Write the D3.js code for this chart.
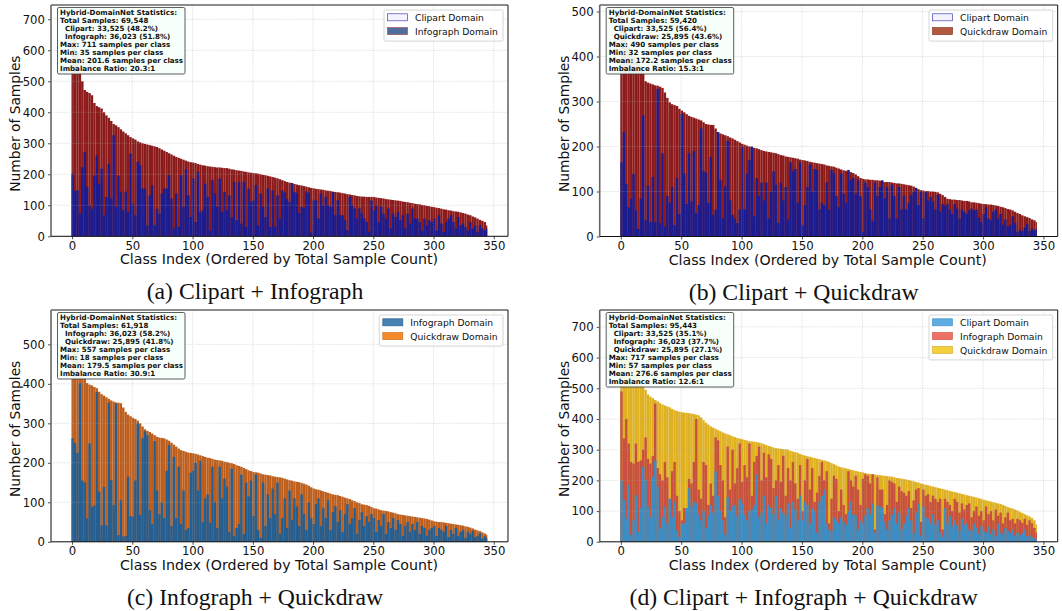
<!DOCTYPE html>
<html>
<head>
<meta charset="utf-8">
<script src="https://cdn.jsdelivr.net/npm/d3@7"></script>
<style>
  html, body { margin: 0; padding: 0; background: white; }
  svg { display: block; }
  text { font-family: "DejaVu Sans", sans-serif; fill: #111; }
  .caption { font-family: "Liberation Serif", serif; }
</style>
</head>
<body>
<svg id="chart" width="1062" height="611"></svg>
<script>
// values, one value per 2 classes (index 0, 2, 4, ... 344), each row = 50 classes
var aClipart = [
  202,148,148,73,223,272,159,100,89,196,261,170,218,68,127,234,122,326,95,196,142,84,144,78,267,
  105,68,240,229,154,154,35,132,165,35,89,73,138,154,154,197,122,25,138,30,197,95,215,132,62,
  186,46,207,78,84,170,127,19,181,138,95,186,78,143,84,132,62,175,52,175,41,175,30,154,111,
  116,165,35,138,95,62,154,30,148,30,132,57,148,142,120,110,172,143,140,75,95,92,145,140,12,
  116,116,57,138,100,127,100,95,143,68,116,68,68,52,20,127,100,90,57,90,73,57,46,15,116,
  84,100,46,95,73,57,90,25,73,62,78,52,68,25,73,41,90,57,57,46,19,57,35,52,46,
  57,19,68,41,14,46,57,68,46,25,62,35,41,30,19,46,25,35,14,35,25,19,25];
var aTotal = [
  711,650,590,530,500,472,466,462,455,430,420,416,412,400,390,382,372,362,358,352,345,338,332,326,320,
  316,312,306,303,300,298,296,294,292,290,288,284,280,276,272,268,264,260,256,253,250,247,244,241,239,
  238,236,233,231,229,228,226,225,224,223,222,222,221,220,220,218,216,215,213,212,211,209,208,206,205,
  204,203,202,200,198,197,195,193,191,189,187,184,181,178,175,173,171,169,167,165,164,162,160,158,156,
  155,153,152,151,150,148,147,146,144,143,142,141,139,138,136,135,133,132,130,129,128,128,127,127,127,
  127,125,124,123,122,120,119,118,117,116,115,114,112,111,110,108,107,105,104,103,101,100,98,97,95,
  94,92,91,89,87,86,84,83,81,80,79,77,75,73,70,68,64,61,57,53,50,46,35];

var bClipart = [
  165,232,117,65,84,139,58,17,84,269,36,113,32,132,32,328,30,185,22,90,75,110,25,130,50,
  272,140,72,185,78,190,52,70,240,145,142,75,177,48,60,232,125,40,112,212,80,48,40,30,60,
  200,60,140,170,200,45,130,90,120,80,120,40,100,145,115,30,120,80,110,38,165,145,150,75,165,
  25,70,110,160,100,150,148,60,75,70,120,60,148,140,90,65,140,95,75,148,125,130,95,125,90,
  10,120,110,60,35,120,90,110,125,85,110,40,115,90,40,110,60,90,60,75,92,100,108,70,100,
  40,98,80,88,78,60,92,55,72,68,72,60,50,72,62,40,60,55,50,58,62,58,60,42,32,
  50,65,40,36,55,60,40,50,26,38,22,26,45,30,10,15,12,20,28,12,18,14,16];
var bTotal = [
  490,470,445,420,410,400,392,385,378,365,345,342,340,338,336,335,333,330,320,308,298,294,292,290,284,
  280,276,272,268,266,264,262,260,258,254,250,249,248,248,240,232,229,227,225,223,220,218,215,212,209,
  206,204,202,200,198,197,196,194,192,190,189,188,187,186,185,183,181,180,178,177,176,175,174,173,171,
  170,169,168,166,165,164,163,162,161,160,158,157,156,155,153,151,149,147,146,145,143,141,138,134,130,
  128,127,127,126,126,125,125,124,122,121,121,121,120,119,118,118,117,116,115,114,113,111,108,105,103,
  102,101,101,100,100,99,98,95,92,88,84,83,82,82,81,81,80,79,79,78,76,76,75,74,73,
  72,72,71,71,70,69,68,66,65,63,61,60,58,55,52,50,47,45,43,41,38,36,32];

var cInfograph = [
  262,250,225,402,155,150,59,249,88,92,379,127,42,139,42,352,156,93,350,17,105,13,15,165,65,
  63,155,300,68,262,280,270,80,45,255,130,70,100,60,180,245,40,215,60,190,45,130,30,35,175,
  180,200,130,205,50,110,120,48,190,100,35,190,110,160,140,25,185,15,35,45,170,20,150,115,155,
  65,170,30,10,150,40,120,60,135,70,150,20,60,110,35,130,55,110,90,40,120,70,30,100,60,
  45,95,110,40,85,60,105,30,75,90,50,80,25,70,95,45,60,85,20,55,75,40,65,50,70,
  60,25,55,40,70,20,50,35,60,30,55,45,15,40,50,25,45,30,50,20,40,35,15,30,35,
  40,15,35,30,25,40,12,30,20,35,15,25,30,10,25,20,28,12,15,22,8,14,10];
var cTotal = [
  557,520,480,450,430,415,402,398,396,392,389,380,374,370,366,362,358,355,353,352,351,340,329,322,318,
  314,311,307,300,292,285,281,278,274,270,266,264,263,262,259,256,251,246,241,236,232,230,228,226,225,
  224,223,221,219,217,215,213,212,210,208,207,206,205,203,202,200,199,197,194,192,190,187,184,181,179,
  177,176,175,173,171,170,169,168,166,165,164,163,162,160,158,156,155,153,152,151,149,147,145,142,138,
  135,133,132,130,128,126,124,122,120,119,118,116,114,112,110,108,105,103,100,98,95,94,93,91,88,
  85,84,82,80,79,78,77,75,74,72,70,69,68,67,66,65,64,63,62,61,60,59,58,56,54,
  52,51,50,50,49,48,47,46,45,44,43,42,41,39,38,36,34,31,29,27,24,21,18];

var dClipart = [
  200,136,76,185,22,70,152,32,110,245,200,115,80,212,265,180,43,80,115,60,140,80,130,38,16,
  60,60,110,174,115,130,125,90,70,100,45,85,120,95,230,150,100,70,25,145,100,115,120,85,140,
  125,90,70,100,105,120,220,80,95,150,60,120,110,90,150,70,110,95,85,125,45,130,105,70,150,
  70,130,120,60,110,100,30,130,150,170,60,40,35,80,70,60,80,65,55,100,130,90,85,40,70,
  60,85,110,90,125,30,118,115,110,65,40,70,90,110,60,95,40,60,85,110,70,30,95,125,20,
  115,80,75,60,90,55,70,30,15,110,60,85,50,70,55,35,75,55,60,40,35,60,45,25,50,
  35,30,50,25,40,18,60,30,25,45,35,28,40,20,30,22,28,40,18,20,15,10,8];
var dClipartInfograph = [
  490,337,400,320,260,255,320,260,265,300,340,270,255,279,450,240,220,200,260,210,140,230,260,150,100,
  70,110,100,205,190,260,400,170,140,260,250,120,190,150,340,330,250,200,80,310,170,300,190,240,320,
  195,250,210,320,150,260,280,310,200,290,210,285,270,175,200,250,195,280,150,240,200,260,190,140,250,
  100,200,270,170,240,130,160,215,260,200,230,60,140,215,205,100,170,120,90,230,200,180,215,170,120,
  205,220,215,190,220,40,210,170,170,90,120,200,195,190,130,180,165,160,150,165,110,135,170,175,65,
  170,150,155,130,150,140,130,140,40,140,130,120,100,140,130,95,125,105,120,125,80,100,115,85,100,
  70,115,90,100,70,105,85,95,60,80,95,70,75,60,75,70,62,75,55,70,60,45,30];
var dTotal = [
  717,690,655,625,600,580,560,540,525,510,495,480,473,468,462,458,452,447,444,441,438,433,429,426,424,
  422,421,420,419,418,416,414,412,405,396,388,382,376,372,368,364,360,356,353,350,347,344,341,338,336,
  334,332,330,328,327,326,325,323,321,318,315,312,310,307,305,304,303,302,301,300,296,294,292,290,286,
  283,281,279,277,275,273,271,269,267,265,263,260,256,253,249,245,243,241,239,237,235,233,231,229,227,
  226,224,222,221,220,219,218,217,216,215,214,213,212,210,208,207,206,204,203,201,199,197,195,193,190,
  188,186,184,182,180,178,176,174,172,170,168,166,164,162,160,158,156,154,152,150,148,146,144,142,140,
  137,135,133,131,129,127,125,123,120,117,113,110,108,105,102,98,94,90,86,83,78,70,57];

var xTicks = [0, 50, 100, 150, 200, 250, 300, 350];

var aStats = ["Hybrid-DomainNet Statistics:", "Total Samples: 69,548", "  Clipart: 33,525 (48.2%)", "  Infograph: 36,023 (51.8%)",
  "Max: 711 samples per class", "Min: 35 samples per class", "Mean: 201.6 samples per class", "Imbalance Ratio: 20.3:1"];
var bStats = ["Hybrid-DomainNet Statistics:", "Total Samples: 59,420", "  Clipart: 33,525 (56.4%)", "  Quickdraw: 25,895 (43.6%)",
  "Max: 490 samples per class", "Min: 32 samples per class", "Mean: 172.2 samples per class", "Imbalance Ratio: 15.3:1"];
var cStats = ["Hybrid-DomainNet Statistics:", "Total Samples: 61,918", "  Infograph: 36,023 (58.2%)", "  Quickdraw: 25,895 (41.8%)",
  "Max: 557 samples per class", "Min: 18 samples per class", "Mean: 179.5 samples per class", "Imbalance Ratio: 30.9:1"];
var dStats = ["Hybrid-DomainNet Statistics:", "Total Samples: 95,443", "  Clipart: 33,525 (35.1%)", "  Infograph: 36,023 (37.7%)", "  Quickdraw: 25,895 (27.1%)",
  "Max: 717 samples per class", "Min: 57 samples per class", "Mean: 276.6 samples per class", "Imbalance Ratio: 12.6:1"];

var panels = [
  { left: 51, right: 508, top: 5, bottom: 236.3, yMax: 746, yTicks: d3.range(0, 701, 100),
    caption: "(a) Clipart + Infograph", stats: aStats,
    layers: [ { values: aTotal, color: "#8c1a1a" }, { values: aClipart, color: "#1c1c8e" } ],
    legend: [ { name: "Clipart Domain", fill: "#f4f4ff", edge: "#4444bb" }, { name: "Infograph Domain", fill: "#4f6e9e", edge: "#a85050" } ] },
  { left: 599.7, right: 1057.7, top: 5, bottom: 236.5, yMax: 514.5, yTicks: d3.range(0, 501, 100),
    caption: "(b) Clipart + Quickdraw", stats: bStats,
    layers: [ { values: bTotal, color: "#8c1a1a" }, { values: bClipart, color: "#1c1c8e" } ],
    legend: [ { name: "Clipart Domain", fill: "#f4f4ff", edge: "#4444bb" }, { name: "Quickdraw Domain", fill: "#b05a40", edge: "#8b3a2a" } ] },
  { left: 51, right: 508, top: 310, bottom: 541.8, yMax: 587, yTicks: d3.range(0, 501, 100),
    caption: "(c) Infograph + Quickdraw", stats: cStats,
    layers: [ { values: cTotal, color: "#bd5e1c" }, { values: cInfograph, color: "#255f92" } ],
    legend: [ { name: "Infograph Domain", fill: "#4682b4", edge: "#2f5f8a" }, { name: "Quickdraw Domain", fill: "#f58a2a", edge: "#d07020" } ] },
  { left: 599.7, right: 1057.7, top: 310, bottom: 541.8, yMax: 755, yTicks: d3.range(0, 701, 100),
    caption: "(d) Clipart + Infograph + Quickdraw", stats: dStats,
    layers: [ { values: dTotal, color: "#dfb020" }, { values: dClipartInfograph, color: "#c7503f" }, { values: dClipart, color: "#3d8dc2" } ],
    legend: [ { name: "Clipart Domain", fill: "#5dade2", edge: "#4a95c8" }, { name: "Infograph Domain", fill: "#ec7063", edge: "#d05a50" }, { name: "Quickdraw Domain", fill: "#f4d03f", edge: "#d8b030" } ] }
];

var svg = d3.select("#chart");
var classStep = 2;
var lastClass = 344;

function drawPanel(p) {
  var g = svg.append("g");

  var xScale = d3.scaleLinear().domain([-17.5, 361.8]).range([p.left, p.right]);
  var yScale = d3.scaleLinear().domain([0, p.yMax]).range([p.bottom, p.top]);

  // bars, back layer first
  p.layers.forEach(layer => {
    g.append("g").selectAll("rect")
      .data(layer.values)
      .enter()
      .append("rect")
      .attr("x", (d, i) => xScale(i * classStep - 0.5))
      .attr("width", (d, i) => xScale(Math.min(i * classStep + classStep - 0.5, lastClass + 0.6)) - xScale(i * classStep - 0.5))
      .attr("y", d => yScale(d))
      .attr("height", d => yScale(0) - yScale(d))
      .attr("fill", layer.color);
  });

  // grid sits over the bars
  var grid = g.append("g").attr("stroke", "#aaa").attr("stroke-width", 0.7)
    .attr("stroke-dasharray", "1.5,1").attr("stroke-opacity", 0.45);
  grid.selectAll(".gx").data(xTicks).enter().append("line")
    .attr("x1", d => xScale(d)).attr("x2", d => xScale(d))
    .attr("y1", p.top).attr("y2", p.bottom);
  grid.selectAll(".gy").data(p.yTicks).enter().append("line")
    .attr("x1", p.left).attr("x2", p.right)
    .attr("y1", d => yScale(d)).attr("y2", d => yScale(d));

  // axes
  var xAxis = g.append("g")
    .attr("transform", `translate(0,${p.bottom})`)
    .call(d3.axisBottom(xScale).tickValues(xTicks).tickSize(3).tickPadding(2));
  var yAxis = g.append("g")
    .attr("transform", `translate(${p.left},0)`)
    .call(d3.axisLeft(yScale).tickValues(p.yTicks).tickSize(3).tickPadding(3));
  [xAxis, yAxis].forEach(a => {
    a.select(".domain").remove();
    a.selectAll("text").style("font-family", "DejaVu Sans").style("font-size", "11.7px").attr("fill", "#111");
    a.selectAll("line").attr("stroke", "#222").attr("stroke-width", 0.8);
  });

  // spines, top and left are heavier and grey in the picture
  g.append("line").attr("x1", p.left).attr("x2", p.right).attr("y1", p.top).attr("y2", p.top)
    .attr("stroke", "#666").attr("stroke-width", 1.6);
  g.append("line").attr("x1", p.left).attr("x2", p.left).attr("y1", p.top).attr("y2", p.bottom)
    .attr("stroke", "#666").attr("stroke-width", 1.6);
  g.append("line").attr("x1", p.right).attr("x2", p.right).attr("y1", p.top).attr("y2", p.bottom)
    .attr("stroke", "#111").attr("stroke-width", 1);
  g.append("line").attr("x1", p.left).attr("x2", p.right).attr("y1", p.bottom).attr("y2", p.bottom)
    .attr("stroke", "#111").attr("stroke-width", 1);

  // axis labels
  g.append("text")
    .attr("text-anchor", "middle")
    .attr("x", p.left + 228)
    .attr("y", p.bottom + 28)
    .style("font-size", "14.2px")
    .text("Class Index (Ordered by Total Sample Count)");

  g.append("text")
    .attr("text-anchor", "middle")
    .attr("transform", `translate(${p.left - 31},${(p.top + p.bottom) / 2 + 3}) rotate(-90)`)
    .style("font-size", "13.8px")
    .text("Number of Samples");

  // caption under the panel
  g.append("text")
    .attr("class", "caption")
    .attr("text-anchor", "middle")
    .attr("x", p.left + 204)
    .attr("y", p.bottom + 63)
    .style("font-size", "23.7px")
    .text(p.caption);

  // stats box
  var lineHeight = 8;
  var box = g.append("g").attr("transform", `translate(${p.left + 6.5},${p.top + 2.5})`);
  box.append("rect")
    .attr("width", 127.5)
    .attr("height", p.stats.length * lineHeight + 2.5)
    .attr("rx", 1.5)
    .attr("fill", "#f5fffa")
    .attr("fill-opacity", 0.92)
    .attr("stroke", "#333")
    .attr("stroke-width", 0.8);
  box.selectAll("text")
    .data(p.stats)
    .enter()
    .append("text")
    .attr("x", 2.5)
    .attr("y", (d, i) => 7.2 + i * lineHeight)
    .attr("xml:space", "preserve")
    .style("white-space", "pre")
    .style("font-size", "7.1px")
    .style("font-weight", "bold")
    .text(d => d);

  // legend, wider when Quickdraw is in it
  var legendWidth = p.legend.some(d => d.name.startsWith("Quickdraw")) ? 123.7 : 119;
  var legendX = p.right - 5 - legendWidth;
  var legend = g.append("g").attr("transform", `translate(${legendX},${p.top + 5})`);
  legend.append("rect")
    .attr("width", legendWidth)
    .attr("height", p.legend.length * 13.8 + 3.5)
    .attr("rx", 1.5)
    .attr("fill", "white")
    .attr("fill-opacity", 0.85)
    .attr("stroke", "#ccc")
    .attr("stroke-width", 0.8);
  var rows = legend.selectAll(".row")
    .data(p.legend)
    .enter()
    .append("g")
    .attr("transform", (d, i) => `translate(3.5,${3.8 + i * 13.8})`);
  rows.append("rect")
    .attr("width", 20)
    .attr("height", 7)
    .attr("fill", d => d.fill)
    .attr("stroke", d => d.edge)
    .attr("stroke-width", 0.7);
  rows.append("text")
    .attr("x", 27.5)
    .attr("y", 7.2)
    .style("font-size", "9.2px")
    .attr("fill", "#222")
    .text(d => d.name);
}

panels.forEach(drawPanel);
</script>
</body>
</html>
